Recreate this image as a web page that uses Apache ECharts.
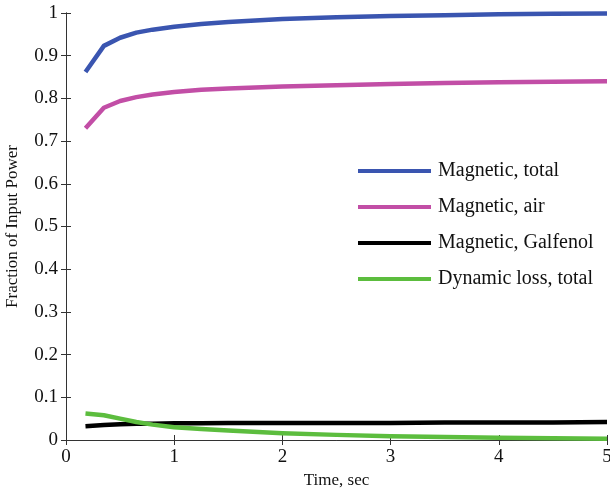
<!DOCTYPE html>
<html><head><meta charset="utf-8">
<script src="https://cdn.jsdelivr.net/npm/echarts@6/dist/echarts.min.js"></script>
<style>html,body{margin:0;padding:0;background:#fff}#c{width:610px;height:496px}</style>
</head><body><div id="c"></div>
<script>
const seriesNames = ['Magnetic, total', 'Magnetic, air', 'Magnetic, Galfenol', 'Dynamic loss, total'];
const timeSec = [0.18, 0.35, 0.5, 0.65, 0.8, 1, 1.25, 1.5, 2, 2.5, 3, 3.5, 4, 4.5, 5];
const magTotal = [0.862, 0.923, 0.942, 0.954, 0.961, 0.968, 0.974, 0.979, 0.986, 0.990, 0.993, 0.995, 0.997, 0.998, 0.999];
const magAir = [0.730, 0.778, 0.794, 0.803, 0.809, 0.815, 0.820, 0.823, 0.828, 0.831, 0.834, 0.836, 0.838, 0.839, 0.840];
const magGalfenol = [0.032, 0.035, 0.037, 0.038, 0.038, 0.039, 0.039, 0.040, 0.040, 0.040, 0.040, 0.041, 0.041, 0.041, 0.042];
const dynLoss = [0.062, 0.058, 0.050, 0.042, 0.036, 0.030, 0.026, 0.022, 0.016, 0.012, 0.009, 0.007, 0.005, 0.004, 0.003];
const colors = ['#3a55b0', '#c24ea6', '#000000', '#5cbd3e'];
const values = [magTotal, magAir, magGalfenol, dynLoss];

const font = 'Liberation Serif';
const chart = echarts.init(document.getElementById('c'));
chart.setOption({
  animation: false,
  grid: {left: 66, right: 3, top: 13, bottom: 56, containLabel: false, outerBoundsMode: 'none'},
  legend: {
    orient: 'vertical', left: 353, top: 156, itemGap: 16,
    itemWidth: 73, itemHeight: 4, icon: 'rect',
    textStyle: {fontFamily: font, fontSize: 20, color: '#111', padding: [0,0,0,2]},
    data: seriesNames
  },
  xAxis: [{
    type: 'value', min: 0, max: 5, interval: 1,
    name: 'Time, sec', nameLocation: 'middle', nameGap: 30,
    nameTextStyle: {fontFamily: font, fontSize: 17, color: '#111'},
    axisLine: {show: true, lineStyle: {color: '#333', width: 1}},
    axisTick: {inside: true, length: 5, lineStyle: {color: '#333'}},
    axisLabel: {fontFamily: font, fontSize: 19, color: '#111', margin: 8},
    splitLine: {show: false}
  }, {
    type: 'value', min: 0, max: 5, interval: 1, position: 'top',
    axisLine: {show: true, lineStyle: {color: '#333', width: 1}},
    axisTick: {inside: true, length: 5, lineStyle: {color: '#333'}},
    axisLabel: {show: false}, splitLine: {show: false}
  }],
  yAxis: [{
    type: 'value', min: 0, max: 1, interval: 0.1,
    name: 'Fraction of Input Power', nameLocation: 'middle', nameGap: 45,
    nameTextStyle: {fontFamily: font, fontSize: 17, color: '#111'},
    axisLine: {show: true, lineStyle: {color: '#333', width: 1}},
    axisTick: {inside: true, length: 5, lineStyle: {color: '#333'}},
    axisLabel: {fontFamily: font, fontSize: 19, color: '#111', margin: 8,
      formatter: v => String(Math.round(v * 10) / 10)},
    splitLine: {show: false}
  }, {
    type: 'value', min: 0, max: 1, interval: 0.1, position: 'right',
    axisLine: {show: true, lineStyle: {color: '#333', width: 1}},
    axisTick: {inside: true, length: 5, lineStyle: {color: '#333'}},
    axisLabel: {show: false}, splitLine: {show: false}
  }],
  series: seriesNames.map((n, i) => ({
    name: n, type: 'line', smooth: false, showSymbol: false,
    data: timeSec.map((t, k) => [t, values[i][k]]),
    lineStyle: {color: colors[i], width: 4.5, join: 'round'},
    itemStyle: {color: colors[i]},
    z: i === 3 ? 5 : 3
  }))
});
</script></body></html>
